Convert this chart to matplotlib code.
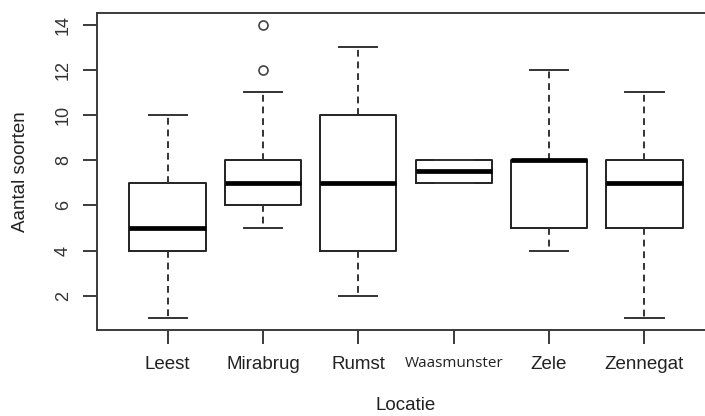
import matplotlib
matplotlib.use('Agg')
import matplotlib.pyplot as plt

plt.rcParams['font.family'] = 'Liberation Sans'

# Box statistics
locaties = ['Leest', 'Mirabrug', 'Rumst', 'Waasmunster', 'Zele', 'Zennegat']
whislo = [1, 5, 2, 7, 4, 1]
q1 = [4, 6, 4, 7, 5, 5]
med = [5, 7, 7, 7.5, 8, 7]
q3 = [7, 8, 10, 8, 8, 8]
whishi = [10, 11, 13, 8, 12, 11]
fliers = [[], [12, 14], [], [], [], []]
y_ticks = [2, 4, 6, 8, 10, 12, 14]

stats = []
for i in range(len(locaties)):
    stats.append(dict(label=locaties[i], whislo=whislo[i], q1=q1[i], med=med[i],
                      q3=q3[i], whishi=whishi[i], fliers=fliers[i]))

fig = plt.figure(figsize=(7.05, 4.16), dpi=100)
ax = fig.add_axes([97 / 705, 86 / 416, 618 / 705, 317 / 416])

frame_col = '#3a3a3a'
ax.bxp(stats, positions=range(1, 7), widths=0.8, showfliers=True, patch_artist=False,
       boxprops=dict(color='#222222', linewidth=1.4),
       medianprops=dict(color='black', linewidth=3.4, solid_capstyle='butt'),
       whiskerprops=dict(color='#333333', linewidth=1.4, linestyle=(0, (3.5, 2.5))),
       capprops=dict(color='#333333', linewidth=1.4),
       capwidths=0.4,
       flierprops=dict(marker='o', markersize=6.5, markerfacecolor='none',
                       markeredgecolor='#444444', markeredgewidth=1.2))

ax.set_xlim(0.26, 6.74)
ax.set_ylim(0.48, 14.52)

ax.set_yticks(y_ticks)
ax.set_yticklabels([str(t) for t in y_ticks], rotation=90, va='center', fontsize=13, color='#333333')
ax.set_xticks(range(1, 7))
ax.set_xticklabels(locaties, fontsize=13.5, color='#222222')
# Waasmunster is set in a smaller, different face in the reference
wlab = ax.get_xticklabels()[3]
wlab.set_fontfamily('Open Sans')
wlab.set_fontsize(11)

ax.tick_params(axis='both', length=10, width=1.4, color=frame_col)
ax.tick_params(axis='x', pad=9)
ax.tick_params(axis='y', pad=8)

for sp in ax.spines.values():
    sp.set_color(frame_col)
    sp.set_linewidth(1.4)

ax.set_xlabel('Locatie', fontsize=13.5, color='#222222', labelpad=17)
ax.set_ylabel('Aantal soorten', fontsize=13.5, color='#222222', labelpad=19)

fig.savefig('out.png', dpi=100)
